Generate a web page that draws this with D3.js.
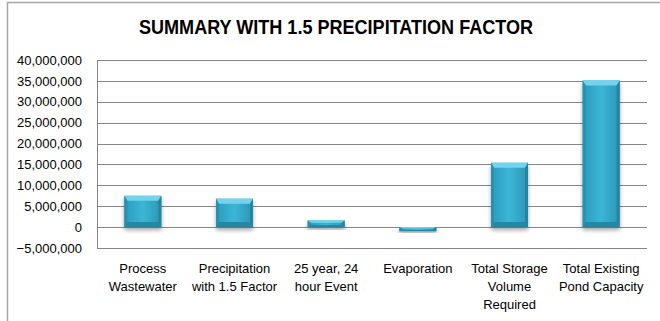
<!DOCTYPE html>
<html>
<head>
<meta charset="utf-8">
<script src="https://cdn.jsdelivr.net/npm/d3@7"></script>
<style>
  html, body { margin: 0; padding: 0; background: #fff; }
  svg { display: block; }
  text { font-family: "Liberation Sans", Arial, sans-serif; fill: #000; }
</style>
</head>
<body>
<svg id="chart" width="660" height="321"></svg>
<script>
// Water balance summary (gallons)
const categories = [
  ["Process", "Wastewater"],
  ["Precipitation", "with 1.5 Factor"],
  ["25 year, 24", "hour Event"],
  ["Evaporation"],
  ["Total Storage", "Volume", "Required"],
  ["Total Existing", "Pond Capacity"]
];
const values = [7500000, 6800000, 1600000, -1000000, 15400000, 35100000];
const yTicks = [-5000000, 0, 5000000, 10000000, 15000000, 20000000, 25000000, 30000000, 35000000, 40000000];
const title = "SUMMARY WITH 1.5 PRECIPITATION FACTOR";

const svg = d3.select("#chart");
const W = 660, H = 321;
const plot = { left: 97, right: 647, top: 60, bottom: 248 };

// outer chart frame (right and bottom edges fall outside the view)
svg.append("rect")
  .attr("x", 7.5).attr("y", 2.5)
  .attr("width", W + 10).attr("height", H + 10)
  .attr("fill", "#fff").attr("stroke", "#a6a6a6").attr("stroke-width", 1.5);

// condensed bold title
svg.append("text")
  .attr("x", 139).attr("y", 34)
  .attr("textLength", 394)
  .attr("lengthAdjust", "spacingAndGlyphs")
  .style("font-size", "20px").style("font-weight", "bold")
  .text(title);

const x = d3.scaleBand()
  .domain(d3.range(categories.length))
  .range([plot.left, plot.right])
  .paddingInner(0.596).paddingOuter(0.298);

const y = d3.scaleLinear()
  .domain([yTicks[0], yTicks[yTicks.length - 1]])
  .range([plot.bottom, plot.top]);

// horizontal gridlines
svg.append("g").selectAll("line")
  .data(yTicks)
  .join("line")
  .attr("x1", plot.left).attr("x2", plot.right)
  .attr("y1", d => Math.round(y(d)) + 0.5).attr("y2", d => Math.round(y(d)) + 0.5)
  .attr("stroke", "#868686").attr("stroke-width", 1);

// vertical axis line
svg.append("line")
  .attr("x1", plot.left + 0.5).attr("x2", plot.left + 0.5)
  .attr("y1", y(yTicks[yTicks.length - 1])).attr("y2", y(yTicks[0]) + 0.5)
  .attr("stroke", "#868686");

// y-axis labels
const yAxis = d3.axisLeft(y)
  .tickValues(yTicks)
  .tickSize(0)
  .tickPadding(15)
  .tickFormat(d3.format(","));
const gy = svg.append("g")
  .attr("transform", `translate(${plot.left},0)`)
  .call(yAxis);
gy.select(".domain").remove();
gy.selectAll("text")
  .style("font-size", "13px")
  .style("font-family", "'Liberation Sans', Arial, sans-serif")
  .attr("fill", "#000");

// bar styling: gradient, bevel faces and soft shadow
const defs = svg.append("defs");
const grad = defs.append("linearGradient").attr("id", "barFill")
  .attr("x1", 0).attr("x2", 1).attr("y1", 0).attr("y2", 0);
grad.append("stop").attr("offset", "0%").attr("stop-color", "#2a9bbd");
grad.append("stop").attr("offset", "50%").attr("stop-color", "#3cb6d6");
grad.append("stop").attr("offset", "100%").attr("stop-color", "#2a95b6");

const shadow = defs.append("filter").attr("id", "barShadow")
  .attr("x", "-30%").attr("y", "-30%").attr("width", "160%").attr("height", "160%");
shadow.append("feGaussianBlur").attr("in", "SourceAlpha").attr("stdDeviation", 2);
shadow.append("feOffset").attr("dx", 0).attr("dy", 3).attr("result", "blur");
shadow.append("feComponentTransfer").append("feFuncA").attr("type", "linear").attr("slope", 0.35);
const merge = shadow.append("feMerge");
merge.append("feMergeNode");
merge.append("feMergeNode").attr("in", "SourceGraphic");

const bars = svg.append("g").selectAll("g")
  .data(values)
  .join("g")
  .attr("filter", "url(#barShadow)");

bars.each(function (v, i) {
  const g = d3.select(this);
  const x0 = x(i), w = x.bandwidth();
  const yTop = y(Math.max(v, 0)), yBot = y(Math.min(v, 0));
  const h = yBot - yTop;
  const b = Math.min(5, h / 3);   // bevel depth
  const s = Math.min(3, w / 6);   // side bevel width
  g.append("rect")
    .attr("x", x0).attr("y", yTop).attr("width", w).attr("height", h)
    .attr("fill", "url(#barFill)");
  // top bevel
  g.append("path")
    .attr("d", `M${x0},${yTop} L${x0 + w},${yTop} L${x0 + w - s},${yTop + b} L${x0 + s},${yTop + b} Z`)
    .attr("fill", "#72d4ec");
  // bottom bevel
  g.append("path")
    .attr("d", `M${x0},${yBot} L${x0 + w},${yBot} L${x0 + w - s},${yBot - b} L${x0 + s},${yBot - b} Z`)
    .attr("fill", "#2887a5");
  // side bevels
  g.append("path")
    .attr("d", `M${x0},${yTop} L${x0 + s},${yTop + b} L${x0 + s},${yBot - b} L${x0},${yBot} Z`)
    .attr("fill", "#2a8fb0");
  g.append("path")
    .attr("d", `M${x0 + w},${yTop} L${x0 + w - s},${yTop + b} L${x0 + w - s},${yBot - b} L${x0 + w},${yBot} Z`)
    .attr("fill", "#26849f");
});

// category labels (multi-line)
const labels = svg.append("g").selectAll("text")
  .data(categories)
  .join("text")
  .attr("text-anchor", "middle")
  .style("font-size", "13px")
  .attr("transform", (d, i) => `translate(${x(i) + x.bandwidth() / 2},273)`);
labels.selectAll("tspan")
  .data(d => d)
  .join("tspan")
  .attr("x", 0)
  .attr("y", (d, j) => j * 18)
  .text(d => d);
</script>
</body>
</html>
